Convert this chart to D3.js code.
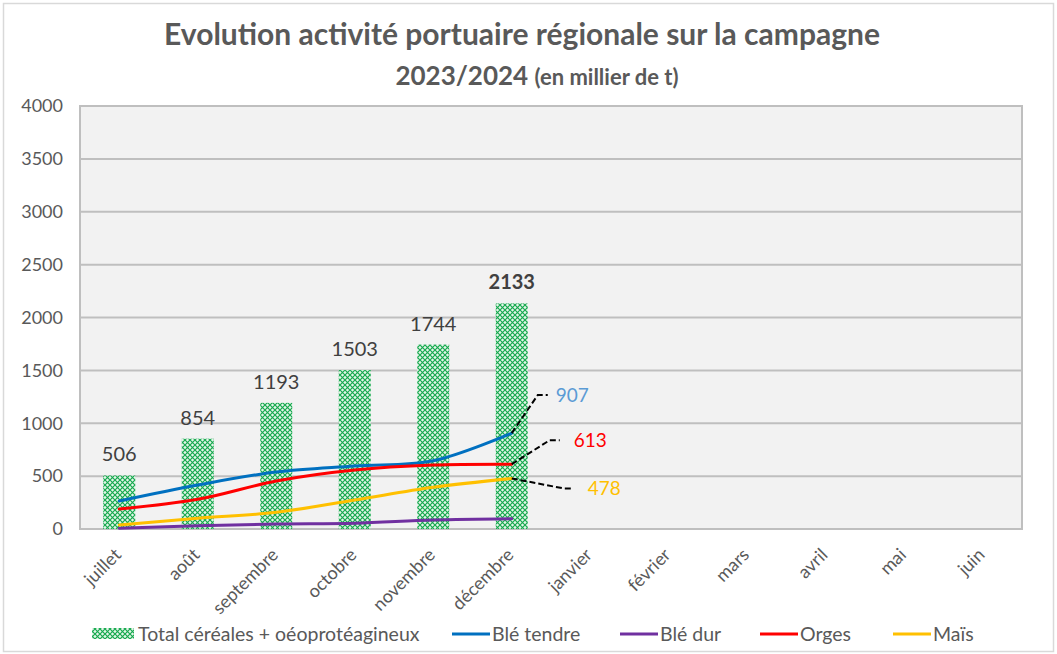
<!DOCTYPE html>
<html>
<head>
<meta charset="utf-8">
<script src="https://cdn.jsdelivr.net/npm/d3@7"></script>
<style>
  body { margin: 0; background: #fff; }
  text { font-family: Lato, "Open Sans", sans-serif; }
</style>
</head>
<body>
<div id="chart"></div>
<script>
// data (milliers de tonnes)
var months = ["juillet", "août", "septembre", "octobre", "novembre", "décembre",
              "janvier", "février", "mars", "avril", "mai", "juin"];
var totalCereales = [506, 854, 1193, 1503, 1744, 2133];
var bleTendre = [265, 416, 539, 596, 646, 907];
var bleDur = [7, 31, 47, 54, 85, 97];
var orges = [189, 281, 454, 558, 605, 613];
var mais = [38, 101, 158, 274, 394, 478];
var yTicks = [0, 500, 1000, 1500, 2000, 2500, 3000, 3500, 4000];

var lineSeries = [
    { name: "Blé tendre", values: bleTendre, color: "#0070c0", labelColor: "#5b9bd5" },
    { name: "Blé dur", values: bleDur, color: "#7030a0", labelColor: null },
    { name: "Orges", values: orges, color: "#ff0000", labelColor: "#ff0000" },
    { name: "Maïs", values: mais, color: "#ffc000", labelColor: "#ffc000" }
];

var W = 1057, H = 654;
var margin = { left: 80, right: 35, top: 106, bottom: 125 };

var svg = d3.select("#chart").append("svg").attr("width", W).attr("height", H);

// outer frame
svg.append("rect").attr("x", 3.5).attr("y", 3.5).attr("width", W - 7).attr("height", H - 6)
    .attr("fill", "#fff").attr("stroke", "#d9d9d9").attr("stroke-width", 1.5);

// hatch pattern for the bars
var defs = svg.append("defs");
var pat = defs.append("pattern").attr("id", "hatch")
    .attr("patternUnits", "userSpaceOnUse").attr("width", 5).attr("height", 5);
pat.append("rect").attr("width", 5).attr("height", 5).attr("fill", "#e3f5e8");
pat.append("path").attr("d", "M0,0 L5,5 M5,0 L0,5")
    .attr("stroke", "#16a94e").attr("stroke-width", 1.2);

var x = d3.scaleBand().domain(months)
    .range([margin.left, W - margin.right]);
var y = d3.scaleLinear().domain([0, 4000])
    .range([H - margin.bottom, margin.top]);

// plot area
svg.append("rect").attr("x", margin.left).attr("y", margin.top)
    .attr("width", W - margin.left - margin.right).attr("height", H - margin.top - margin.bottom)
    .attr("fill", "#f2f2f2").attr("stroke", "#bfbfbf").attr("stroke-width", 2);

// gridlines
svg.append("g").selectAll("line").data(yTicks.slice(1, -1)).enter().append("line")
    .attr("x1", margin.left).attr("x2", W - margin.right)
    .attr("y1", function (d) { return y(d); }).attr("y2", function (d) { return y(d); })
    .attr("stroke", "#bfbfbf").attr("stroke-width", 2);

// y axis
var yAxis = svg.append("g").attr("transform", "translate(" + (margin.left - 17) + ",0)")
    .call(d3.axisLeft(y).tickValues(yTicks).tickFormat(d3.format("d")).tickSize(0).tickPadding(0));
yAxis.select(".domain").remove();
yAxis.selectAll("text").attr("fill", "#595959").style("font-size", "18px")
    .style("font-family", "Lato, sans-serif");

// x axis labels
var xAxis = svg.append("g").attr("transform", "translate(0," + (H - margin.bottom) + ")")
    .call(d3.axisBottom(x).tickSize(0).tickPadding(0));
xAxis.select(".domain").remove();
xAxis.selectAll("text")
    .attr("fill", "#595959").style("font-size", "18px").style("font-family", "Lato, sans-serif")
    .attr("text-anchor", "end")
    .attr("transform", "translate(3,27) rotate(-45)")
    .attr("dy", "0");

// bars
var bw = 32;
svg.append("g").selectAll("rect").data(totalCereales).enter().append("rect")
    .attr("x", function (d, i) { return x(months[i]) + x.bandwidth() / 2 - bw / 2; })
    .attr("y", function (d) { return y(d); })
    .attr("width", bw)
    .attr("height", function (d) { return y(0) - y(d); })
    .attr("fill", "url(#hatch)");

// bar labels
svg.append("g").selectAll("text").data(totalCereales).enter().append("text")
    .attr("x", function (d, i) { return x(months[i]) + x.bandwidth() / 2; })
    .attr("y", function (d) { return y(d) - 14; })
    .attr("text-anchor", "middle")
    .attr("fill", "#404040")
    .style("font-size", "20px")
    .style("font-weight", function (d, i) { return i === totalCereales.length - 1 ? "bold" : "normal"; })
    .text(function (d) { return d; });

// lines
var line = d3.line()
    .x(function (d, i) { return x(months[i]) + x.bandwidth() / 2; })
    .y(function (d) { return y(d); })
    .curve(d3.curveCatmullRom.alpha(0.5));

svg.append("g").selectAll("path").data(lineSeries).enter().append("path")
    .attr("d", function (s) { return line(s.values); })
    .attr("fill", "none")
    .attr("stroke", function (s) { return s.color; })
    .attr("stroke-width", 3)
    .attr("stroke-linecap", "round");

// end labels with dashed leaders (offsets of the label from last point)
var labelOffsets = { "Blé tendre": [36, -38, 44], "Orges": [48, -24, 62], "Maïs": [62, 10, 76] };
var last = totalCereales.length - 1;
var cxLast = x(months[last]) + x.bandwidth() / 2;
lineSeries.filter(function (s) { return s.labelColor; }).forEach(function (s) {
    var off = labelOffsets[s.name];
    var py = y(s.values[last]);
    var ex = cxLast + off[0], ey = py + off[1];
    svg.append("path")
        .attr("d", "M" + cxLast + "," + py + " L" + (ex - 10) + "," + ey + " L" + ex + "," + ey)
        .attr("fill", "none").attr("stroke", "#000").attr("stroke-width", 2)
        .attr("stroke-dasharray", "6,3");
    svg.append("text").attr("x", cxLast + off[2]).attr("y", ey + 7)
        .attr("fill", s.labelColor).style("font-size", "19px")
        .text(s.values[last]);
});

// title
var title = svg.append("text").attr("x", 522).attr("y", 45).attr("text-anchor", "middle")
    .attr("fill", "#595959").style("font-size", "30px").style("font-weight", "bold");
title.text("Evolution activité portuaire régionale sur la campagne");
var title2 = svg.append("text").attr("x", 537).attr("y", 85).attr("text-anchor", "middle")
    .attr("fill", "#595959").style("font-weight", "bold");
title2.append("tspan").style("font-size", "26px").text("2023/2024 ");
title2.append("tspan").style("font-size", "22px").text("(en millier de t)");

// legend
var legend = svg.append("g").attr("transform", "translate(0,634)");
legend.append("rect").attr("x", 92).attr("y", -6).attr("width", 42).attr("height", 11)
    .attr("fill", "url(#hatch)");
legend.append("text").attr("x", 138).attr("y", 7).attr("fill", "#595959")
    .style("font-size", "19.5px").text("Total céréales + oéoprotéagineux");
var legendX = [452, 620, 760, 893];
lineSeries.forEach(function (s, i) {
    legend.append("line").attr("x1", legendX[i]).attr("x2", legendX[i] + 38)
        .attr("y1", 0).attr("y2", 0).attr("stroke", s.color).attr("stroke-width", 3);
    legend.append("text").attr("x", legendX[i] + 40).attr("y", 7).attr("fill", "#595959")
        .style("font-size", "19.5px").text(s.name);
});
</script>
</body>
</html>
